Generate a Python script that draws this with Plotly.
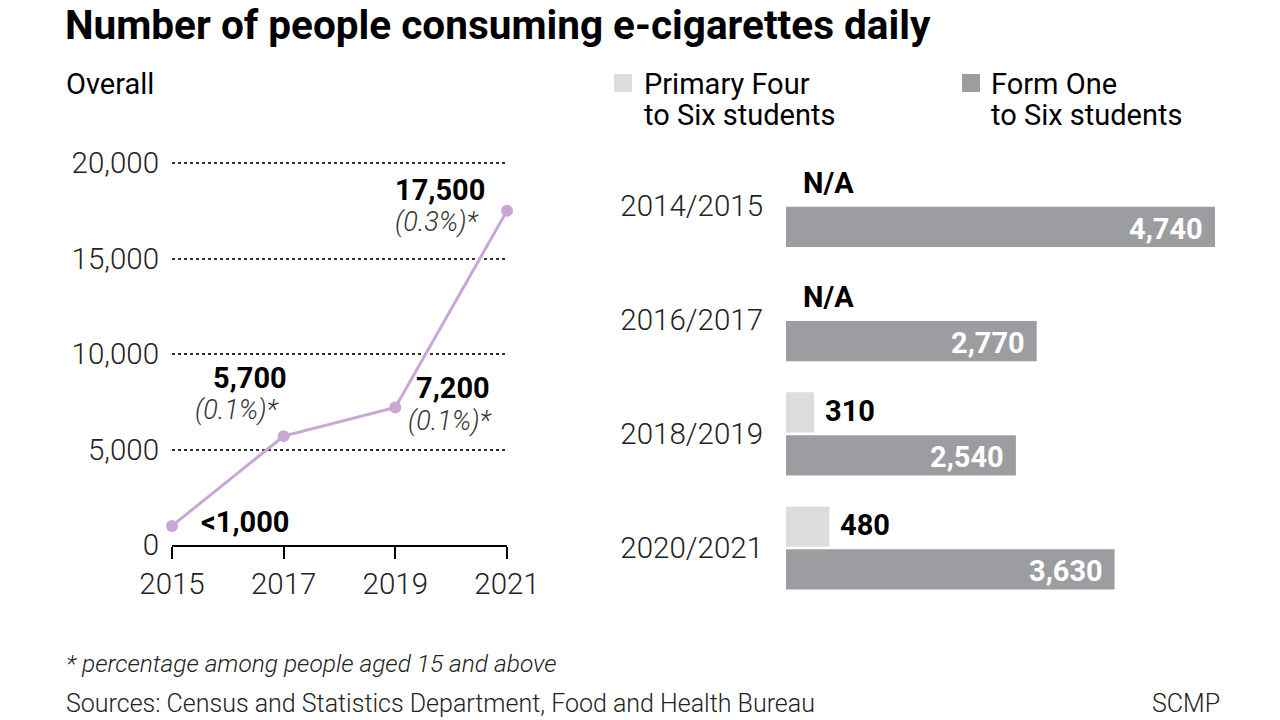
import plotly.graph_objects as go

# ---------------- data ----------------
years = [2015, 2017, 2019, 2021]
overall = [1000, 5700, 7200, 17500]
overall_labels = ["<1,000", "5,700", "7,200", "17,500"]
overall_pct = [None, "(0.1%)*", "(0.1%)*", "(0.3%)*"]
y_ticks = [0, 5000, 10000, 15000, 20000]
y_ticklabels = ["0", "5,000", "10,000", "15,000", "20,000"]

school_years = ["2014/2015", "2016/2017", "2018/2019", "2020/2021"]
primary = [None, None, 310, 480]
primary_labels = ["N/A", "N/A", "310", "480"]
secondary = [4740, 2770, 2540, 3630]
secondary_labels = ["4,740", "2,770", "2,540", "3,630"]

legend_primary = ["Primary Four", "to Six students"]
legend_secondary = ["Form One", "to Six students"]

LINE = "#c9a7d4"
LIGHT = "#dcdddf"
DARK = "#9c9da1"
FONT = "Roboto"
TICK = 29.5

fig = go.Figure()

fig.add_trace(go.Scatter(
    x=years, y=overall, mode="lines+markers",
    line=dict(color=LINE, width=3),
    marker=dict(color=LINE, size=12),
    cliponaxis=False, xaxis="x", yaxis="y", showlegend=False,
))

fig.add_trace(go.Bar(
    y=school_years, x=primary, orientation="h",
    marker=dict(color=LIGHT), xaxis="x2", yaxis="y2", showlegend=False,
))
fig.add_trace(go.Bar(
    y=school_years, x=secondary, orientation="h",
    marker=dict(color=DARK), xaxis="x2", yaxis="y2", showlegend=False,
))

annotations = []
# line-chart value labels (offsets are style only)
bold_off = [(73, 4), (-34, 58), (58, 19), (-67, 21)]
pct_off = [None, (-47, 26), (55, -14), (-70, -11)]
for i in range(len(years)):
    dx, dy = bold_off[i]
    annotations.append(dict(
        x=years[i], y=overall[i], xref="x", yref="y",
        text=overall_labels[i], showarrow=False, xshift=dx, yshift=dy,
        font=dict(family=FONT, size=29, color="black", weight=700),
    ))
    if overall_pct[i]:
        dx, dy = pct_off[i]
        annotations.append(dict(
            x=years[i], y=overall[i], xref="x", yref="y",
            text="<i>" + overall_pct[i] + "</i>", showarrow=False,
            xshift=dx, yshift=dy,
            font=dict(family=FONT, size=27, color="#333333", weight=300),
        ))

# light bar labels (outside) and dark bar labels (inside, at end)
for i, sy in enumerate(school_years):
    v = primary[i] if primary[i] is not None else 0
    annotations.append(dict(
        x=v, y=sy, xref="x2", yref="y2", text=primary_labels[i],
        showarrow=False, xanchor="left", xshift=9 if primary[i] else 15,
        yshift=23,
        font=dict(family=FONT, size=29, color="black", weight=700),
    ))
    annotations.append(dict(
        x=secondary[i], y=sy, xref="x2", yref="y2", text=secondary_labels[i],
        showarrow=False, xanchor="right", xshift=-10, yshift=-23,
        font=dict(family=FONT, size=29, color="white", weight=700),
    ))

# titles / text
annotations += [
    dict(x=63 / 1280, y=1, xref="paper", yref="paper", xanchor="left",
         yanchor="top", yshift=1, showarrow=False,
         text="Number of people consuming e-cigarettes daily",
         font=dict(family=FONT, size=40.5, color="black", weight=700)),
    dict(x=64 / 1280, y=1 - 84 / 720, xref="paper", yref="paper", xanchor="left",
         yanchor="middle", showarrow=False, text="Overall",
         font=dict(family=FONT, size=29, color="black")),
]
for lx, lines in ((642, legend_primary), (989, legend_secondary)):
    for j, t in enumerate(lines):
        annotations.append(dict(
            x=lx / 1280, y=1 - (84 + 31 * j) / 720, xref="paper", yref="paper",
            xanchor="left", yanchor="middle", showarrow=False, text=t,
            font=dict(family=FONT, size=29, color="black"),
        ))
annotations += [
    dict(x=64 / 1280, y=1 - 663 / 720, xref="paper", yref="paper", xanchor="left",
         yanchor="middle", showarrow=False,
         text="<i>* percentage among people aged 15 and above</i>",
         font=dict(family=FONT, size=24.5, color="#222222", weight=300)),
    dict(x=64 / 1280, y=0, xref="paper", yref="paper", xanchor="left",
         yanchor="bottom", showarrow=False,
         text="Sources: Census and Statistics Department, Food and Health Bureau",
         font=dict(family=FONT, size=25, color="#222222", weight=300)),
    dict(x=1222 / 1280, y=0, xref="paper", yref="paper", xanchor="right",
         yanchor="bottom", showarrow=False, text="SCMP",
         font=dict(family=FONT, size=25, color="#222222", weight=300)),
]

shapes = [
    dict(type="rect", xref="paper", yref="paper",
         x0=614 / 1280, x1=632 / 1280, y0=1 - 92 / 720, y1=1 - 74 / 720,
         fillcolor=LIGHT, line=dict(width=0)),
    dict(type="rect", xref="paper", yref="paper",
         x0=962 / 1280, x1=980 / 1280, y0=1 - 92 / 720, y1=1 - 74 / 720,
         fillcolor=DARK, line=dict(width=0)),
]

ytop = 20100
fig.update_layout(
    template="none",
    width=1280, height=720, autosize=False,
    margin=dict(l=0, r=0, t=0, b=0, pad=0, autoexpand=False),
    paper_bgcolor="white", plot_bgcolor="white",
    barmode="group", bargap=0.25, bargroupgap=0.06,
    font=dict(family=FONT),
    xaxis=dict(
        domain=[172 / 1280, 507 / 1280], range=[2015, 2021],
        tickvals=years, ticktext=[str(y) for y in years],
        showgrid=False, zeroline=False, showline=True, linecolor="black", linewidth=2,
        ticks="outside", ticklen=12, tickwidth=2, tickcolor="black",
        tickfont=dict(family=FONT, size=TICK, color="#222222", weight=300),
        anchor="y", fixedrange=True, automargin=False,
    ),
    yaxis=dict(
        domain=[1 - 545 / 720, 1 - (545 - 382 * ytop / 20000) / 720], range=[0, ytop],
        tickvals=y_ticks, ticktext=y_ticklabels,
        showgrid=True, gridcolor="#333333", griddash="dot", gridwidth=1.5,
        zeroline=False, showline=False, ticks="", ticklabelstandoff=12,
        tickfont=dict(family=FONT, size=TICK, color="#222222", weight=300),
        anchor="x", fixedrange=True, automargin=False,
    ),
    xaxis2=dict(
        domain=[786 / 1280, 1215 / 1280], range=[0, 4740],
        visible=False, anchor="y2", fixedrange=True, automargin=False,
    ),
    yaxis2=dict(
        domain=[1 - 616.6 / 720, 1 - 137 / 720], range=[3.6, -0.6],
        categoryorder="array", categoryarray=school_years,
        showgrid=False, zeroline=False, showline=False, ticks="",
        ticklabelstandoff=22,
        tickfont=dict(family=FONT, size=TICK, color="#222222", weight=300),
        anchor="x2", fixedrange=True, automargin=False,
    ),
    annotations=annotations, shapes=shapes,
)

fig.write_html("out.html", config=dict(displayModeBar=False))
